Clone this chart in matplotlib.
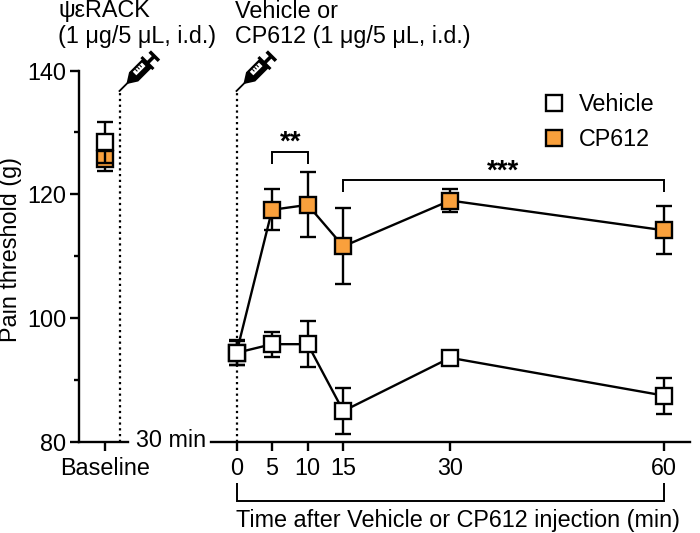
import matplotlib
matplotlib.use("Agg")
import matplotlib.pyplot as plt
from matplotlib.lines import Line2D
from matplotlib.patches import Polygon
from matplotlib.transforms import Affine2D
import numpy as np

plt.rcParams['font.family'] = ['Liberation Sans', 'DejaVu Sans']

# ---- data ----
time_min = [0, 5, 10, 15, 30, 60]
vehicle_mean = [94.4, 95.8, 95.8, 85.0, 93.6, 87.5]
vehicle_hi = [96.5, 97.8, 99.5, 88.7, 94.0, 90.3]
vehicle_lo = [92.4, 93.8, 92.1, 81.3, 93.2, 84.6]
cp612_mean = [94.4, 117.5, 118.3, 111.6, 119.0, 114.2]
cp612_hi = [96.3, 120.8, 123.6, 117.8, 120.8, 118.1]
cp612_lo = [92.5, 114.2, 113.1, 105.5, 117.2, 110.3]
base_vehicle = (128.4, 131.7, 125.1)
base_cp612 = (125.7, 127.5, 123.8)
y_ticks = [80, 100, 120, 140]
y_minor = [90, 110, 130]
bracket_short = ([5, 5, 10, 10], [124.9, 126.85, 126.85, 124.9])
bracket_long = ([15, 15, 60, 60], [120.4, 122.3, 122.3, 120.4])
bracket_time = ([0, 0, 60, 60], [73.4, 70.4, 70.4, 73.4])

ORANGE = '#F9A03C'
W, H = 700, 533
LW = 1.7
FS = 16.8
MS = 11.2

fig = plt.figure(figsize=(W / 100, H / 100), dpi=100)
px = Affine2D().scale(1 / W, -1 / H).translate(0, 1) + fig.transFigure


def axes_px(x0, x1, y_top, y_bot):
    return fig.add_axes([x0 / W, 1 - y_bot / H, (x1 - x0) / W, (y_bot - y_top) / H])


Y_TOP, Y_BOT = 70.5, 442.0
ax1 = axes_px(79, 128, Y_TOP, Y_BOT)
ax2 = axes_px(210.7, 690, Y_TOP, Y_BOT)
scale = (663.7 - 236.5) / 60
ax1.set_xlim((79 - 105) / 49, (128 - 105) / 49)
ax2.set_xlim((210.7 - 236.5) / scale, (690 - 236.5) / scale)
dot_x = (119.7 - 105) / 49

for ax in (ax1, ax2):
    ax.set_ylim(80, 140)
    ax.patch.set_alpha(0)
    for s in ('top', 'right'):
        ax.spines[s].set_visible(False)
    ax.spines['bottom'].set_linewidth(LW)
    ax.tick_params(axis='x', which='major', length=6.5, width=LW, labelsize=FS, pad=4.5)
ax1.spines['left'].set_linewidth(LW)
ax2.spines['left'].set_visible(False)
ax2.set_yticks([])

ax1.set_yticks(y_ticks)
ax1.set_yticks(y_minor, minor=True)
ax1.tick_params(axis='y', which='major', length=6.8, width=LW, labelsize=FS, pad=2.5)
ax1.tick_params(axis='y', which='minor', length=3.6, width=LW)
ax1.set_xticks([0])
ax1.set_xticklabels(['Baseline'])
ax2.set_xticks(time_min)
ax2.set_xticklabels([str(t) for t in time_min])

# dotted injection lines
dot_top = 80 + (Y_BOT - 91) / ((Y_BOT - Y_TOP) / 60)
dots = dict(color='k', lw=1.6, ls=(0, (1, 1.6)), zorder=1)
ax1.plot([dot_x, dot_x], [80, dot_top], **dots)
ax2.plot([0, 0], [80, dot_top], **dots)


def series(ax, x, mean, hi, lo, face, z):
    m = np.array(mean)
    ax.errorbar(x, mean, yerr=[m - np.array(lo), np.array(hi) - m], fmt='none',
                ecolor='k', elinewidth=LW, capsize=6, capthick=LW, zorder=z)
    ax.plot(x, mean, color='k', lw=LW, zorder=z + .1, clip_on=False)
    ax.plot(x, mean, ls='none', marker='s', ms=MS, mew=LW, mec='k', mfc=face,
            zorder=z + .2, clip_on=False)


series(ax2, time_min, cp612_mean, cp612_hi, cp612_lo, ORANGE, 3)
series(ax2, time_min, vehicle_mean, vehicle_hi, vehicle_lo, 'white', 4)

# baseline points: the vehicle whisker shows over the orange square
series(ax1, [0], [base_cp612[0]], [base_cp612[1]], [base_cp612[2]], ORANGE, 2)
ax1.errorbar([0], [base_vehicle[0]], yerr=[[base_vehicle[0] - base_vehicle[2]], [base_vehicle[1] - base_vehicle[0]]],
             fmt='none', ecolor='k', elinewidth=LW, capsize=6, capthick=LW, zorder=3)
ax1.plot([0], [base_vehicle[0]], ls='none', marker='s', ms=MS, mew=LW, mec='k', mfc='white', zorder=4)

# significance and time brackets
for xs, ys in (bracket_short, bracket_long, bracket_time):
    ax2.plot(xs, ys, color='k', lw=1.4, clip_on=False, solid_joinstyle='miter', solid_capstyle='butt')


def label(x, y, s, **kw):
    kw.setdefault('fontsize', FS)
    kw.setdefault('ha', 'left')
    kw.setdefault('va', 'baseline')
    fig.text(x, y, s, transform=px, **kw)


label(290.5, 150, '**', ha='center', fontsize=20, fontweight='bold')
label(503, 179, '***', ha='center', fontsize=20, fontweight='bold')
label(58, 17.5, 'ψεRACK')
label(58, 43, '(1 μg/5 μL, i.d.)')
label(235, 17.5, 'Vehicle or')
label(235, 43, 'CP612 (1 μg/5 μL, i.d.)')
label(136, 447, '30 min')
label(236, 527, 'Time after Vehicle or CP612 injection (min)')
label(17, 250, 'Pain threshold (g)', rotation=90, ha='center', rotation_mode='anchor')

# legend
handles = [
    Line2D([], [], ls='none', marker='s', ms=MS, mew=LW, mec='k', mfc='white', label='Vehicle'),
    Line2D([], [], ls='none', marker='s', ms=MS, mew=LW, mec='k', mfc=ORANGE, label='CP612'),
]
fig.legend(handles=handles, loc='upper left', bbox_to_anchor=(521 / W, 1 - 84 / H), frameon=False,
           fontsize=FS, labelspacing=0.49, handletextpad=0.1, borderaxespad=0, borderpad=0.4)


# syringe icon, drawn along its own axis from the needle tip
def syringe(tip_x, tip_y):
    ang = np.deg2rad(45)
    ux, uy = np.cos(ang), -np.sin(ang)
    vx, vy = np.sin(ang), np.cos(ang)

    def P(pts):
        return [(tip_x + a * ux + b * vx, tip_y + a * uy + b * vy) for a, b in pts]

    def poly(pts, c):
        fig.add_artist(Polygon(P(pts), closed=True, fc=c, ec='none', transform=px))

    fig.add_artist(Line2D(*zip(*P([(0, 0), (15, 0)])), color='k', lw=1.3, transform=px))
    poly([(11, -.8), (20, -6.5), (39, -6.5), (39, 6.5), (20, 6.5), (11, .8)], 'k')
    poly([(23, -4.2), (36, -4.2), (36, .8), (23, .8)], 'white')
    for a in (26, 29, 32):
        poly([(a, -4.2), (a + 1.1, -4.2), (a + 1.1, -1.2), (a, -1.2)], 'k')
    poly([(38, -8.5), (41, -8.5), (41, 8.5), (38, 8.5)], 'k')
    poly([(40, -1.8), (49, -1.8), (49, 1.8), (40, 1.8)], 'k')
    poly([(47.5, -6.5), (51, -6.5), (51, 6.5), (47.5, 6.5)], 'k')


syringe(119.5, 91)
syringe(236.5, 91)

fig.savefig('out.png', dpi=100)
